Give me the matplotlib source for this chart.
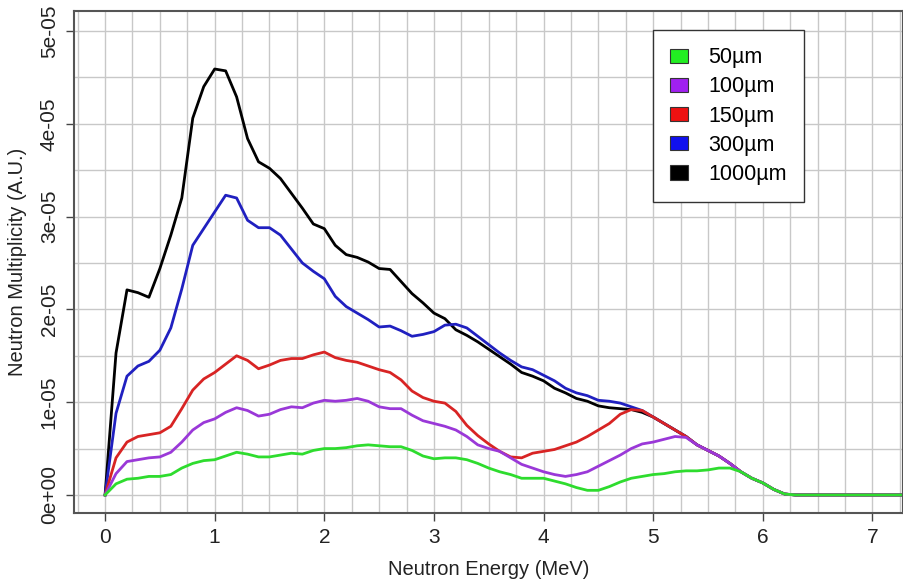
import numpy as np
import matplotlib
matplotlib.use("Agg")
import matplotlib.pyplot as plt
from matplotlib.patches import Patch

plt.rcParams['font.family'] = ['Liberation Sans', 'DejaVu Sans']

# energy grid (MeV) and multiplicity per thickness, in units of 1e-5
energy = np.round(np.arange(0, 7.51, 0.1), 1)

m1000 = [0.00, 1.53, 2.21, 2.18, 2.13, 2.44, 2.80, 3.20, 4.06, 4.40,
         4.59, 4.57, 4.29, 3.84, 3.59, 3.52, 3.41, 3.25, 3.09, 2.92,
         2.87, 2.69, 2.59, 2.56, 2.51, 2.44, 2.43, 2.30, 2.17, 2.07,
         1.96, 1.90, 1.78, 1.72, 1.65, 1.57, 1.49, 1.41, 1.32, 1.28,
         1.23, 1.15, 1.10, 1.04, 1.01, 0.96, 0.94, 0.93, 0.92, 0.89,
         0.84, 0.77, 0.70, 0.63, 0.54, 0.48, 0.42, 0.34, 0.25, 0.18,
         0.13, 0.06, 0.01, 0.00, 0.00, 0.00, 0.00, 0.00, 0.00, 0.00,
         0.00, 0.00, 0.00, 0.00, 0.00, 0.00]
m300 = [0.00, 0.88, 1.28, 1.39, 1.44, 1.56, 1.80, 2.22, 2.69, 2.87,
        3.05, 3.23, 3.20, 2.96, 2.88, 2.88, 2.80, 2.65, 2.50, 2.41,
        2.33, 2.14, 2.03, 1.96, 1.89, 1.81, 1.82, 1.77, 1.71, 1.73,
        1.76, 1.83, 1.84, 1.80, 1.71, 1.62, 1.53, 1.45, 1.38, 1.35,
        1.29, 1.23, 1.15, 1.10, 1.07, 1.02, 1.01, 0.99, 0.95, 0.91,
        0.84, 0.77, 0.70, 0.63, 0.54, 0.48, 0.42, 0.34, 0.25, 0.18,
        0.13, 0.06, 0.01, 0.00, 0.00, 0.00, 0.00, 0.00, 0.00, 0.00,
        0.00, 0.00, 0.00, 0.00, 0.00, 0.00]
m150 = [0.00, 0.40, 0.57, 0.63, 0.65, 0.67, 0.74, 0.93, 1.13, 1.25,
        1.32, 1.41, 1.50, 1.45, 1.36, 1.40, 1.45, 1.47, 1.47, 1.51,
        1.54, 1.48, 1.45, 1.43, 1.39, 1.35, 1.32, 1.24, 1.12, 1.05,
        1.01, 0.99, 0.90, 0.75, 0.64, 0.55, 0.47, 0.41, 0.40, 0.45,
        0.47, 0.49, 0.53, 0.57, 0.63, 0.70, 0.77, 0.87, 0.92, 0.91,
        0.84, 0.77, 0.70, 0.63, 0.54, 0.48, 0.42, 0.34, 0.25, 0.18,
        0.13, 0.06, 0.01, 0.00, 0.00, 0.00, 0.00, 0.00, 0.00, 0.00,
        0.00, 0.00, 0.00, 0.00, 0.00, 0.00]
m100 = [0.00, 0.23, 0.36, 0.38, 0.40, 0.41, 0.46, 0.57, 0.70, 0.78,
        0.82, 0.89, 0.94, 0.91, 0.85, 0.87, 0.92, 0.95, 0.94, 0.99,
        1.02, 1.01, 1.02, 1.04, 1.01, 0.95, 0.93, 0.93, 0.86, 0.80,
        0.77, 0.74, 0.70, 0.63, 0.54, 0.50, 0.47, 0.40, 0.33, 0.29,
        0.25, 0.22, 0.20, 0.22, 0.25, 0.31, 0.37, 0.43, 0.50, 0.55,
        0.57, 0.60, 0.63, 0.62, 0.54, 0.48, 0.42, 0.34, 0.25, 0.18,
        0.13, 0.06, 0.01, 0.00, 0.00, 0.00, 0.00, 0.00, 0.00, 0.00,
        0.00, 0.00, 0.00, 0.00, 0.00, 0.00]
m50 = [0.00, 0.12, 0.17, 0.18, 0.20, 0.20, 0.22, 0.29, 0.34, 0.37,
       0.38, 0.42, 0.46, 0.44, 0.41, 0.41, 0.43, 0.45, 0.44, 0.48,
       0.50, 0.50, 0.51, 0.53, 0.54, 0.53, 0.52, 0.52, 0.48, 0.42,
       0.39, 0.40, 0.40, 0.38, 0.34, 0.29, 0.25, 0.22, 0.18, 0.18,
       0.18, 0.15, 0.12, 0.08, 0.05, 0.05, 0.09, 0.14, 0.18, 0.20,
       0.22, 0.23, 0.25, 0.26, 0.26, 0.27, 0.29, 0.29, 0.25, 0.18,
       0.13, 0.06, 0.01, 0.00, 0.00, 0.00, 0.00, 0.00, 0.00, 0.00,
       0.00, 0.00, 0.00, 0.00, 0.00, 0.00]

labels = ["50\u00b5m", "100\u00b5m", "150\u00b5m", "300\u00b5m", "1000\u00b5m"]
series = [m50, m100, m150, m300, m1000]
line_colors = ['#2edc2e', '#9a38d8', '#d82424', '#2020c0', '#000000']
patch_colors = ['#22ee22', '#a020f0', '#ee1111', '#1010ee', '#000000']
scale = 1e-5

fig = plt.figure(figsize=(9.04, 5.82), dpi=100)
ax = fig.add_axes([0.0819, 0.1186, 0.9171, 0.8625])

# grid every 0.25 MeV and 0.5e-5
for gx in np.arange(-0.25, 7.3, 0.25):
    ax.axvline(gx, color='#c8c8c8', lw=1.0, zorder=0)
for gy in np.arange(0, 5.1, 0.5):
    ax.axhline(gy * scale, color='#c8c8c8', lw=1.0, zorder=0)

# draw thickest first so thin ones sit on top
for vals, c in list(zip(series, line_colors))[::-1]:
    ax.plot(energy, np.array(vals) * scale, color=c, lw=2.0, zorder=2)

ax.set_xlim(-0.283, 7.28)
ax.set_ylim(-1.94e-6, 5.215e-5)
ax.set_xticks(range(0, 8))
ax.set_yticks(np.arange(0, 6) * scale)
ax.set_yticklabels(["0e+00", "1e-05", "2e-05", "3e-05", "4e-05", "5e-05"],
                   rotation=90, va='center')
ax.tick_params(direction='out', length=6, width=1.0, color='#444444',
               labelsize=15, labelcolor='#222222', pad=5)
for sp in ax.spines.values():
    sp.set_color('#555555')
    sp.set_linewidth(1.5)

ax.set_xlabel("Neutron Energy (MeV)", fontsize=14.5, color='#222222', labelpad=9)
ax.set_ylabel("Neutron Multiplicity (A.U.)", fontsize=14.5, color='#222222', labelpad=9)

handles = [Patch(facecolor=c, edgecolor='#333333', lw=0.8) for c in patch_colors]
leg = ax.legend(handles, labels, loc='upper left', bbox_to_anchor=(0.698, 0.962),
                borderaxespad=0, fontsize=15.5, frameon=True, fancybox=False,
                handlelength=0.82, handleheight=0.65, handletextpad=0.95,
                labelspacing=0.38, borderpad=0.8)
leg.get_frame().set_edgecolor('#333333')
leg.get_frame().set_linewidth(1.0)
leg.get_frame().set_alpha(1.0)

fig.savefig("out.png", dpi=100)
